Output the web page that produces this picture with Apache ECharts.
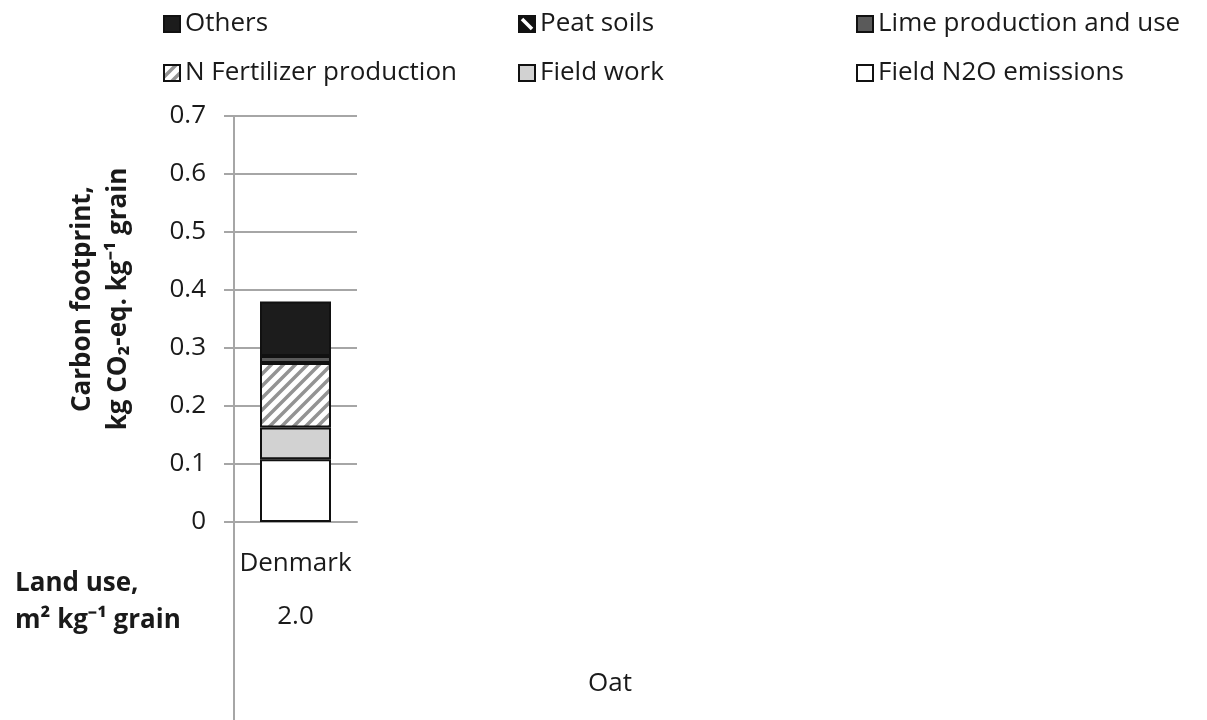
<!DOCTYPE html>
<html>
<head>
<meta charset="utf-8">
<script src="https://cdn.jsdelivr.net/npm/echarts@6/dist/echarts.min.js"></script>
<style>
html,body{margin:0;padding:0;background:#fff;}
#c{width:1207px;height:720px;}
</style>
</head>
<body>
<div id="c"></div>
<script>
// ---- data ----
const categories = ['Denmark'];
const landUse = [2.0];
const seriesNames = ['Field N2O emissions', 'Field work', 'N Fertilizer production', 'Lime production and use', 'Peat soils', 'Others'];
const fieldN2O = [0.108];
const fieldWork = [0.055];
const nFertilizer = [0.111];
const lime = [0.012];
const peatSoils = [0];
const others = [0.094];
const yTicks = [0, 0.1, 0.2, 0.3, 0.4, 0.5, 0.6, 0.7];
const groupLabel = 'Oat';

// ---- styles ----
const FONT = 'Open Sans';
const FS = 26;
const GRID = {left: 234, right: 850, top: 116, bottom: 198};
const AXIS_GRAY = '#a6a6a6';
const TEXT = '#1a1a1a';

function hatchPattern() {
  const s = 12;
  const c = document.createElement('canvas');
  c.width = s; c.height = s;
  const g = c.getContext('2d');
  g.fillStyle = '#ffffff';
  g.fillRect(0, 0, s, s);
  g.strokeStyle = '#939393';
  g.lineWidth = 3.5;
  g.beginPath();
  g.moveTo(0, s); g.lineTo(s, 0);
  g.moveTo(-s / 2, s / 2); g.lineTo(s / 2, -s / 2);
  g.moveTo(s / 2, s * 1.5); g.lineTo(s * 1.5, s / 2);
  g.stroke();
  return {image: c, repeat: 'repeat'};
}
function peatPattern() {
  const s = 16;
  const c = document.createElement('canvas');
  c.width = s; c.height = s;
  const g = c.getContext('2d');
  g.fillStyle = '#111111';
  g.fillRect(0, 0, s, s);
  g.strokeStyle = '#ffffff';
  g.lineWidth = 3.5;
  g.beginPath();
  g.moveTo(3, 3); g.lineTo(s - 3, s - 3);
  g.stroke();
  return {image: c, repeat: 'repeat'};
}

const fills = ['#ffffff', '#d2d2d2', hatchPattern(), '#5a5a5a', peatPattern(), '#1c1c1c'];
const values = [fieldN2O, fieldWork, nFertilizer, lime, peatSoils, others];

const series = seriesNames.map((n, i) => ({
  name: n,
  type: 'bar',
  stack: 'total',
  barWidth: 71,
  data: values[i],
  itemStyle: {color: fills[i], borderColor: '#111', borderWidth: 2},
  emphasis: {disabled: true},
  animation: false
}));

// legend layout: [name, left, top]
const legendPos = [
  ['Others', 158, 6],
  ['Peat soils', 513, 6],
  ['Lime production and use', 851, 6],
  ['N Fertilizer production', 158, 55],
  ['Field work', 513, 55],
  ['Field N2O emissions', 851, 55]
];
const legends = legendPos.map(([n, l, t]) => ({
  data: [n],
  left: l, top: t,
  icon: 'rect',
  itemWidth: 16, itemHeight: 16,
  selectedMode: false,
  textStyle: {fontFamily: FONT, fontSize: FS, color: TEXT}
}));

const chart = echarts.init(document.getElementById('c'), null, {renderer: 'canvas'});
const option = {
  backgroundColor: '#ffffff',
  animation: false,
  legend: legends,
  grid: {left: GRID.left, right: GRID.right, top: GRID.top, bottom: GRID.bottom, containLabel: false},
  xAxis: {
    type: 'category',
    data: categories,
    axisLine: {lineStyle: {color: AXIS_GRAY, width: 2}},
    axisTick: {show: false},
    axisLabel: {
      margin: 15,
      formatter: (v, i) => '{a|' + v + '}\n{b|' + landUse[i].toFixed(1) + '}',
      rich: {
        a: {fontFamily: FONT, fontSize: FS, color: TEXT, lineHeight: 53},
        b: {fontFamily: FONT, fontSize: FS, color: TEXT, lineHeight: 53}
      }
    }
  },
  yAxis: {
    type: 'value',
    min: yTicks[0], max: yTicks[yTicks.length - 1], interval: 0.1,
    name: 'Carbon footprint,\nkg CO₂-eq. kg⁻¹ grain',
    nameLocation: 'middle',
    nameGap: 97,
    nameRotate: 90,
    nameTextStyle: {fontFamily: FONT, fontSize: FS, fontWeight: 'bold', color: TEXT, lineHeight: 36, padding: [0, 0, 0, 40]},
    axisLine: {show: true, lineStyle: {color: AXIS_GRAY, width: 2}},
    axisTick: {show: true, length: 10, lineStyle: {color: AXIS_GRAY, width: 2}},
    axisLabel: {margin: 28, fontFamily: FONT, fontSize: FS, color: TEXT},
    splitLine: {show: true, lineStyle: {color: AXIS_GRAY, width: 2}}
  },
  series: series
};
chart.setOption(option);

// decorations: axis extension, row label, group label
const y0 = chart.convertToPixel({yAxisIndex: 0}, 0);
chart.setOption({
  graphic: [
    {type: 'line', shape: {x1: GRID.left, y1: y0, x2: GRID.left, y2: 720}, style: {stroke: AXIS_GRAY, lineWidth: 2}, silent: true},
    {type: 'text', left: 15, top: 565, style: {text: 'Land use,\nm² kg⁻¹ grain', font: 'bold ' + FS + 'px "Open Sans"', fill: TEXT, lineHeight: 37}},
    {type: 'text', x: 610, y: 684, style: {text: groupLabel, font: FS + 'px "Open Sans"', fill: TEXT, align: 'center', verticalAlign: 'middle'}}
  ]
});
</script>
</body>
</html>
